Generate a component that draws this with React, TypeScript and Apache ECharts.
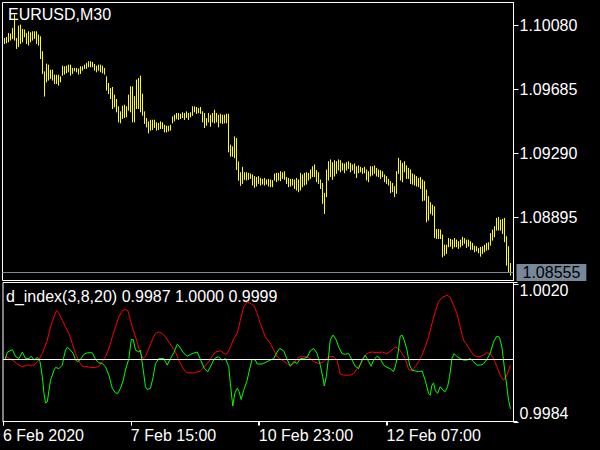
import React, { useEffect, useRef } from "react";
import * as echarts from "echarts";

// ---------- data ----------
const symbolTitle = "EURUSD,M30";
const indicatorName = "d_index(3,8,20)";
const lastPrice = 1.08555;
const levelValue = 1.0;

const priceTicks = [1.08895, 1.0929, 1.09685, 1.1008];
const indTicks = [0.9984, 1.002];
const timeLabels = ["6 Feb 2020", "7 Feb 15:00", "10 Feb 23:00", "12 Feb 07:00"];
const timeLabelBars = [-1, 63, 127, 191];

const highs = [
  1.09999, 1.10005, 1.1003, 1.10026, 1.10061, 1.10143, 1.09999, 1.10075, 1.10081, 1.10055,
  1.10051, 1.1003, 1.1004, 1.10034, 1.1004, 1.1004, 1.1004, 1.1002, 1.10009, 1.09917,
  1.09793, 1.0984, 1.09834, 1.09803, 1.09803, 1.09772, 1.09772, 1.09772, 1.09762, 1.09828,
  1.09824, 1.09828, 1.09834, 1.09834, 1.09814, 1.09814, 1.09814, 1.0981, 1.09824, 1.09824,
  1.09834, 1.09845, 1.09855, 1.09855, 1.09851, 1.09838, 1.09828, 1.09834, 1.09834, 1.09828,
  1.09814, 1.09762, 1.09721, 1.0969, 1.09696, 1.09649, 1.09622, 1.09577, 1.09546, 1.09581,
  1.09587, 1.09577, 1.09649, 1.097, 1.097, 1.09639, 1.09742, 1.09752, 1.09766, 1.09655,
  1.09546, 1.09505, 1.09484, 1.09494, 1.09494, 1.09494, 1.09478, 1.09474, 1.09484, 1.09478,
  1.09463, 1.09457, 1.09457, 1.09463, 1.09515, 1.09525, 1.09536, 1.09536, 1.09531, 1.0954,
  1.09536, 1.09546, 1.09536, 1.0954, 1.09577, 1.09577, 1.09573, 1.09566, 1.09573, 1.09546,
  1.09536, 1.09505, 1.09536, 1.09525, 1.09536, 1.09556, 1.09536, 1.09525, 1.09531, 1.09525,
  1.09525, 1.09531, 1.09531, 1.0934, 1.0933, 1.09391, 1.09381, 1.09237,
  1.0917, 1.09203, 1.0917, 1.0917, 1.09166, 1.09162, 1.09156, 1.09146, 1.09141, 1.09146,
  1.09135, 1.09129, 1.09135, 1.09125, 1.09129, 1.09125, 1.09121, 1.09162, 1.09166, 1.09166,
  1.09176, 1.0917, 1.09176, 1.09141, 1.09135, 1.09129, 1.09129, 1.09125, 1.09135, 1.09125,
  1.09166, 1.09156, 1.09166, 1.0917, 1.09166, 1.09187, 1.09207, 1.09218, 1.09183, 1.0917,
  1.09125, 1.09104, 1.09043, 1.09187, 1.09238, 1.09249, 1.09232, 1.09244, 1.09238, 1.09249,
  1.09244, 1.09228, 1.09224, 1.09232, 1.09238, 1.09228, 1.09218, 1.09224, 1.09207, 1.09212,
  1.09203, 1.09197, 1.09203, 1.09187, 1.09176, 1.09207, 1.09207, 1.09212, 1.09197, 1.09187,
  1.09183, 1.09176, 1.09156, 1.09146, 1.09129, 1.09115, 1.09104, 1.09084, 1.09176, 1.09259,
  1.09244, 1.09228, 1.09238, 1.09212, 1.09197, 1.09187, 1.09162, 1.09156, 1.09146, 1.09135,
  1.09141, 1.09125, 1.09115, 1.09063, 1.09022, 1.08985, 1.0897, 1.0896, 1.0882, 1.0882,
  1.08816, 1.08785, 1.08723, 1.08723, 1.08764, 1.08758, 1.08754, 1.08764, 1.08754, 1.08744,
  1.08754, 1.08771, 1.08764, 1.08754, 1.08754, 1.08744, 1.08734, 1.08717, 1.08713, 1.08703,
  1.08709, 1.08713, 1.08723, 1.08734, 1.08738, 1.08795, 1.08816, 1.08837, 1.08888, 1.08894,
  1.08878, 1.08882, 1.08888, 1.08775, 1.08713, 1.0861,
];

const lows = [
  1.09968, 1.09972, 1.09978, 1.09989, 1.09999, 1.09989, 1.09937, 1.09948, 1.09968, 1.09978,
  1.10009, 1.09968, 1.09958, 1.09978, 1.09989, 1.09999, 1.09968, 1.09958, 1.09875, 1.09783,
  1.09643, 1.09731, 1.09742, 1.09752, 1.09742, 1.09721, 1.09721, 1.09711, 1.09731, 1.09772,
  1.09779, 1.09787, 1.09793, 1.09772, 1.09783, 1.09799, 1.09793, 1.09779, 1.09783, 1.09803,
  1.09814, 1.09814, 1.09824, 1.09824, 1.09824, 1.09803, 1.09793, 1.09803, 1.09793, 1.09787,
  1.09779, 1.0968, 1.09659, 1.09628, 1.09566, 1.09577, 1.09546, 1.09484, 1.09478, 1.09505,
  1.09511, 1.09515, 1.09556, 1.09546, 1.09484, 1.09484, 1.09566, 1.09566, 1.09546, 1.09525,
  1.09474, 1.09453, 1.09416, 1.09433, 1.09437, 1.09449, 1.09433, 1.09437, 1.09443, 1.09443,
  1.09422, 1.09422, 1.09428, 1.09433, 1.09478, 1.0949, 1.09503, 1.09499, 1.09505, 1.09511,
  1.09499, 1.09511, 1.09499, 1.09515, 1.09525, 1.09546, 1.09536, 1.0954, 1.09536, 1.09484,
  1.09449, 1.09463, 1.09484, 1.09457, 1.09484, 1.09478, 1.09484, 1.09453, 1.09478, 1.09474,
  1.09478, 1.09478, 1.09299, 1.09272, 1.09272, 1.09264, 1.0919, 1.09124,
  1.09092, 1.09104, 1.09129, 1.09125, 1.09129, 1.09135, 1.09094, 1.0908, 1.09088, 1.09104,
  1.09094, 1.091, 1.09094, 1.091, 1.09088, 1.09084, 1.09084, 1.09125, 1.09115, 1.09125,
  1.09121, 1.09135, 1.09129, 1.09104, 1.09084, 1.09088, 1.09094, 1.09073, 1.09063, 1.09053,
  1.09063, 1.09084, 1.09094, 1.091, 1.09125, 1.09135, 1.09146, 1.09146, 1.09115, 1.09104,
  1.09073, 1.08981, 1.08919, 1.09022, 1.09125, 1.09146, 1.09129, 1.0915, 1.09166, 1.09187,
  1.09176, 1.09187, 1.0917, 1.09187, 1.09197, 1.09176, 1.09187, 1.09166, 1.09141, 1.0917,
  1.09176, 1.09166, 1.0917, 1.09125, 1.09115, 1.0915, 1.09156, 1.09166, 1.0915, 1.09146,
  1.09135, 1.09146, 1.09115, 1.09104, 1.09094, 1.09047, 1.09053, 1.09022, 1.09043, 1.09166,
  1.09125, 1.09115, 1.09176, 1.09135, 1.09135, 1.09104, 1.091, 1.09094, 1.09088, 1.09084,
  1.09073, 1.08997, 1.09001, 1.08867, 1.08878, 1.08919, 1.08909, 1.08771, 1.08764, 1.08764,
  1.08764, 1.08651, 1.08661, 1.08672, 1.08713, 1.08717, 1.08703, 1.08713, 1.08713, 1.08703,
  1.08713, 1.08723, 1.08734, 1.08709, 1.08717, 1.08697, 1.08697, 1.08682, 1.08688, 1.08676,
  1.08655, 1.08672, 1.08682, 1.08692, 1.08697, 1.08723, 1.08754, 1.08775, 1.08816, 1.08816,
  1.08816, 1.08795, 1.08744, 1.086, 1.08558, 1.08538,
];

// indicator red line: bar position and value
const redX = [
  0, 3.7, 7, 8.7, 11.2, 14.5, 16.2, 18.7, 21.2, 22.8, 24.5, 25.8, 27, 28.7, 30.3, 32, 33.7, 35.3, 37, 38.7,
  40.3, 42.8, 45.3, 47, 48.7, 50.3, 52, 53.7, 55.3, 57, 58.7, 60.3, 61.5, 62.8, 64.2, 65.8, 67.5, 69.2, 70.3, 72,
  73.7, 75.3, 77, 78.7, 80.3, 82, 83.7, 85.3, 87, 88.7, 90.3, 92, 95.3, 97.8, 99.5, 102, 103.7, 105.3, 107.8, 110.3,
  111.2, 112.8, 114.5, 116.2, 117.8, 119.5, 121.2, 124.5, 126.2, 127.8, 130.3, 132.8, 134.5, 136.2, 138.7, 141.2, 142.8, 144.5, 146.2, 147.8,
  150.3, 152, 154.5, 157, 159.5, 162, 164.5, 166.2, 167.8, 169.5, 172.8, 174.5, 176.2, 178.7, 180.3, 182, 183.7, 186.2, 188.7, 191.2,
  193.7, 195.3, 197, 198.7, 200.3, 202, 203.7, 205.3, 207, 208.7, 210.3, 212, 213.7, 215.3, 217, 218.7, 221.2, 222.8, 224.5, 226.2,
  227.8, 229.5, 231.2, 232.8, 234.5, 236.2, 237.8, 239.5, 241.2, 242.8, 244.5, 246.2, 247.8, 249.5, 251.2, 253,
];
const redY = [
  1.00009, 0.99999, 0.99986, 0.99982, 0.99986, 0.99986, 0.99995, 1.00016, 1.00051, 1.00085, 1.00111, 1.00127, 1.0012, 1.00102, 1.00085, 1.00068, 1.00042, 1.00016, 0.99995, 0.99983,
  0.99983, 0.9998, 0.9998, 0.99983, 0.99995, 1.00008, 1.00029, 1.00059, 1.00085, 1.00111, 1.00127, 1.0013, 1.00127, 1.00102, 1.00077, 1.00051, 1.0002, 1.00003, 1.00008, 1.00029,
  1.00051, 1.00068, 1.00072, 1.00068, 1.00059, 1.00046, 1.00033, 1.0002, 0.99999, 0.99982, 0.99969, 0.99966, 0.99966, 0.99971, 0.9998, 0.99995, 1.00009, 1.0002, 1.00023, 1.00014,
  1.00016, 1.00033, 1.00055, 1.00068, 1.00102, 1.00137, 1.0015, 1.00141, 1.0012, 1.00094, 1.00059, 1.00042, 1.00025, 1.00008, 0.99999, 0.9999, 0.99986, 0.9999, 1.00003, 1.00008,
  1.00008, 1.00006, 0.99995, 0.9999, 0.99995, 1.00008, 1.00008, 0.99999, 0.99963, 0.9996, 0.9996, 0.99964, 0.99977, 0.99995, 1.00012, 1.00018, 1.0002, 1.00018, 1.0002, 1.00016,
  1.00025, 1.00033, 1.00029, 1.00016, 1.00003, 0.99975, 0.99971, 0.99982, 0.99995, 1.00012, 1.00033, 1.00059, 1.00094, 1.00124, 1.0015, 1.00161, 1.00167, 1.00162, 1.00141, 1.0012,
  1.00085, 1.00051, 1.00038, 1.00025, 1.00012, 1.00008, 1.00008, 1.00012, 1.00018, 1.00016, 1.00003, 0.99982, 0.9996, 0.99947, 0.9996, 0.99986,
];

// indicator green line: bar position and value
const greenX = [
  0, 1.2, 3.7, 5.3, 7, 8.7, 10.3, 12, 13.2, 14.5, 16.2, 17.5, 18.7, 19.5, 20.3, 21.2, 22, 22.8, 23.7, 24.5,
  25.3, 27, 28.7, 29.5, 30.3, 31.2, 32.8, 34.2, 35.3, 36.5, 37.8, 39.5, 41.2, 43.7, 45.3, 47, 48.7, 50.3, 52, 53.7,
  55.3, 56.5, 57.8, 59.2, 60.3, 62, 63.2, 64.2, 65.3, 67, 67.8, 69.2, 70.3, 71.2, 72.8, 74.2, 75.3, 77, 79.5, 81.2,
  82.8, 84.5, 86.2, 87.5, 89.2, 91.2, 93.7, 96.2, 97.8, 99.8, 101.5, 103.2, 104.8, 107, 108.7, 110.3, 112, 112.8, 114, 115,
  116.2, 117.2, 118.2, 119.5, 121.2, 122.5, 123.7, 125.3, 126.2, 128.7, 131.2, 132.8, 134.5, 136.2, 137.5, 139.5, 141.2, 142.8, 144.5, 146.2,
  147.8, 149.5, 151.2, 152.8, 154.5, 156.2, 157.8, 159, 159.8, 160.8, 161.7, 162.8, 164.2, 165.8, 167, 168.7, 170.3, 172, 173.7, 175.3,
  177, 178.7, 180.3, 182, 183.2, 184.5, 186.2, 187.8, 189.5, 191.2, 192.8, 194.5, 195.7, 196.7, 197.8, 198.7, 199.8, 201.2, 202.5, 203.7,
  205.3, 207, 208.7, 210.3, 212, 212.8, 213.7, 214.5, 215.3, 216.5, 217.8, 219.2, 220.3, 221.5, 222.5, 223.7, 224.8, 226.2, 227.8, 229.5,
  231.2, 232.8, 234.5, 236.2, 237.8, 239.5, 241.2, 242.8, 244.5, 246.2, 247.5, 248.7, 250.3, 251.2, 252, 253,
];
const greenY = [
  0.99999, 1.0002, 1.00026, 1.00008, 1.00003, 1.0002, 1.00003, 1.00003, 1.00009, 0.99999, 1.00006, 0.99995, 0.99956, 0.99913, 0.99888, 0.99891, 0.99921, 0.99947, 0.9996, 0.99973,
  0.9998, 0.99977, 0.99986, 1.00008, 1.00025, 1.00032, 1.00025, 1.00016, 0.99999, 0.99995, 1.00001, 1.00014, 1.00018, 1.00018, 1.00001, 0.99992, 0.9999, 0.99982, 0.9996, 0.99926,
  0.99914, 0.99913, 0.99926, 0.99947, 0.99973, 1.00003, 1.00052, 1.00052, 1.00025, 1.0002, 1.00025, 0.99973, 0.9993, 0.99923, 0.99926, 0.99956, 0.9999, 1.00003, 1.00003, 0.99986,
  1.00003, 1.00018, 1.0004, 1.00033, 1.00018, 1.00009, 1.00016, 1.0002, 1.00001, 0.99977, 0.99969, 0.99986, 1.00003, 1.00008, 0.99999, 1.00003, 0.99982, 0.99938, 0.9988, 0.99913,
  0.99926, 0.99917, 0.99897, 0.99921, 0.99947, 0.99977, 1.00001, 0.99999, 0.99989, 0.99989, 0.99995, 0.99999, 1.00003, 1.0002, 1.00029, 1.00023, 1.00001, 0.99983, 0.99995, 0.9999,
  1.00003, 1.00003, 1.00006, 1.00023, 1.00029, 1.00016, 0.99986, 0.99956, 0.99932, 0.99956, 0.99995, 1.00051, 1.00064, 1.00051, 1.00033, 1.00016, 1.00014, 1.00016, 0.99999, 0.99983,
  0.99977, 0.99999, 1.00012, 0.99995, 0.99983, 0.99999, 1.00009, 1.00003, 0.99986, 0.9998, 0.99977, 0.99969, 0.9999, 1.00016, 1.00061, 1.00064, 1.00051, 1.00025, 0.99986, 0.99973,
  0.99971, 0.99969, 0.99971, 0.99947, 0.99913, 0.99908, 0.99934, 0.9994, 0.99921, 0.99913, 0.9993, 0.99921, 0.99917, 0.9993, 0.99956, 1.00003, 1.00016, 1.00008, 1.00003, 0.99999,
  0.99999, 1.00003, 0.99995, 0.99986, 0.99986, 0.99989, 1.00001, 1.00016, 1.00046, 1.00061, 1.00058, 1.00033, 0.99964, 0.9993, 0.99895, 0.99873,
];

// axis extents
const barMin = -1;
const barMax = 254.5;
const priceMin = 1.085049;
const priceMax = 1.102207;
const indMin = 0.9984;
const indMax = 1.002;

const FONT = '"Liberation Sans", Arial, sans-serif';

export default function App() {
  const ref = useRef<HTMLDivElement>(null);
  useEffect(() => {
    if (!ref.current) return;
    const chart = echarts.init(ref.current, undefined, { renderer: "svg" });
    const barData = highs.map((h, i) => [i, lows[i], h]);
    const redData = redX.map((x, i) => [x, redY[i]]);
    const greenData = greenX.map((x, i) => [x, greenY[i]]);
    const indText = `${indicatorName} ${greenY[greenY.length - 1].toFixed(4)} ${levelValue.toFixed(4)} ${redY[redY.length - 1].toFixed(4)}`;
    const whiteLine = { show: true, onZero: false, lineStyle: { color: "#ffffff", width: 1 } };

    chart.setOption({
      animation: false,
      backgroundColor: "#000000",
      textStyle: { fontFamily: FONT },
      grid: [
        { left: 2.5, top: 2.5, width: 511, height: 278, show: true, borderColor: "#ffffff", borderWidth: 1, backgroundColor: "transparent" },
        { left: 2.5, top: 282.5, width: 511, height: 139, show: true, borderColor: "#ffffff", borderWidth: 1, backgroundColor: "transparent" },
      ],
      xAxis: [
        { type: "value", gridIndex: 0, min: barMin, max: barMax, show: false, axisLine: { onZero: false } },
        {
          type: "value",
          gridIndex: 1,
          position: "bottom",
          min: barMin,
          max: barMax,
          axisLine: whiteLine,
          splitLine: { show: false },
          axisTick: { show: true, inside: false, customValues: timeLabelBars, length: 4, lineStyle: { color: "#ffffff", width: 1 } },
          axisLabel: {
            customValues: timeLabelBars,
            formatter: (v: number) => timeLabels[timeLabelBars.indexOf(Math.round(v))] ?? "",
            color: "#ffffff",
            fontSize: 16,
            fontFamily: FONT,
            align: "left",
            margin: 6,
          },
        },
      ],
      yAxis: [
        {
          type: "value",
          gridIndex: 0,
          position: "right",
          min: priceMin,
          max: priceMax,
          axisLine: whiteLine,
          splitLine: { show: false },
          axisTick: { show: true, inside: false, customValues: priceTicks, length: 4, lineStyle: { color: "#ffffff", width: 1 } },
          axisLabel: {
            customValues: priceTicks,
            formatter: (v: number) => v.toFixed(5),
            color: "#ffffff",
            fontSize: 16,
            fontFamily: FONT,
            margin: 6,
          },
        },
        {
          type: "value",
          gridIndex: 1,
          position: "right",
          min: indMin,
          max: indMax,
          axisLine: whiteLine,
          splitLine: { show: false },
          axisTick: { show: true, inside: false, customValues: indTicks, length: 4, lineStyle: { color: "#ffffff", width: 1 } },
          axisLabel: {
            customValues: indTicks,
            formatter: (v: number) => v.toFixed(4),
            color: "#ffffff",
            fontSize: 16,
            fontFamily: FONT,
            margin: 6,
            verticalAlignMinLabel: "bottom",
            verticalAlignMaxLabel: "top",
          },
        },
      ],
      series: [
        {
          type: "custom",
          xAxisIndex: 0,
          yAxisIndex: 0,
          data: barData,
          encode: { x: 0, y: [1, 2] },
          silent: true,
          z: 3,
          renderItem: (params: any, api: any) => {
            const x = api.value(0);
            const pHi = api.coord([x, api.value(2)]);
            const pLo = api.coord([x, api.value(1)]);
            return {
              type: "line",
              shape: { x1: pHi[0], y1: pHi[1] - 0.5, x2: pLo[0], y2: pLo[1] + 0.5 },
              style: { stroke: "#ffff00", lineWidth: 1 },
            };
          },
        },
        {
          type: "line",
          xAxisIndex: 0,
          yAxisIndex: 0,
          data: [[highs.length - 1, lastPrice]],
          showSymbol: false,
          symbol: "none",
          silent: true,
          z: 2,
          lineStyle: { width: 0 },
          markLine: {
            silent: true,
            precision: 5,
            symbol: ["none", "none"],
            lineStyle: { color: "#778899", type: "solid", width: 1 },
            label: {
              show: true,
              position: "end",
              distance: 3,
              formatter: () => lastPrice.toFixed(5),
              color: "#000000",
              backgroundColor: "#778899",
              fontSize: 16,
              fontFamily: FONT,
              lineHeight: 16,
              padding: [1, 6, 0, 6],
            },
            data: [{ yAxis: lastPrice }],
          },
        },
        {
          type: "line",
          xAxisIndex: 1,
          yAxisIndex: 1,
          data: redData,
          showSymbol: false,
          symbol: "none",
          silent: true,
          lineStyle: { color: "#ff0000", width: 1 },
          markLine: {
            silent: true,
            precision: 5,
            symbol: ["none", "none"],
            lineStyle: { color: "#ffffff", type: "solid", width: 1 },
            label: { show: false },
            data: [{ yAxis: levelValue }],
          },
        },
        {
          type: "line",
          xAxisIndex: 1,
          yAxisIndex: 1,
          data: greenData,
          showSymbol: false,
          symbol: "none",
          silent: true,
          lineStyle: { color: "#00ff00", width: 1 },
        },
      ],
    });

    // tick marks placed through the chart's own scales
    const rightEdge = 513.5;
    const bottomEdge = 421.5;
    const tickStyle = { stroke: "#ffffff", lineWidth: 1 };
    const tickEls: any[] = [];
    priceTicks.forEach((v) => {
      const y = Math.round(chart.convertToPixel({ yAxisIndex: 0 }, v) as number) + 0.5;
      tickEls.push({ type: "line", shape: { x1: rightEdge, y1: y, x2: rightEdge + 5, y2: y }, style: tickStyle, silent: true, z: 10 });
    });
    indTicks.forEach((v) => {
      let y = Math.round(chart.convertToPixel({ yAxisIndex: 1 }, v) as number) + 0.5;
      if (v === indMax) y += 1;
      tickEls.push({ type: "line", shape: { x1: rightEdge, y1: y, x2: rightEdge + 5, y2: y }, style: tickStyle, silent: true, z: 10 });
    });
    timeLabelBars.forEach((b) => {
      const x = Math.round(chart.convertToPixel({ xAxisIndex: 1 }, b) as number) + 0.5;
      tickEls.push({ type: "line", shape: { x1: x, y1: bottomEdge, x2: x, y2: bottomEdge + 4 }, style: tickStyle, silent: true, z: 10 });
    });

    chart.setOption({
      graphic: [
        { type: "text", left: 8, top: 6, style: { text: symbolTitle, fill: "#ffffff", font: `16px ${FONT}` }, silent: true },
        { type: "text", left: 6, top: 288, style: { text: indText, fill: "#ffffff", font: `16px ${FONT}` }, silent: true },
        ...tickEls,
      ],
    });
    return () => chart.dispose();
  }, []);
  return (
    <div
      ref={ref}
      style={{ position: "fixed", left: 0, top: 0, width: 600, height: 450, background: "#000000" }}
    />
  );
}
